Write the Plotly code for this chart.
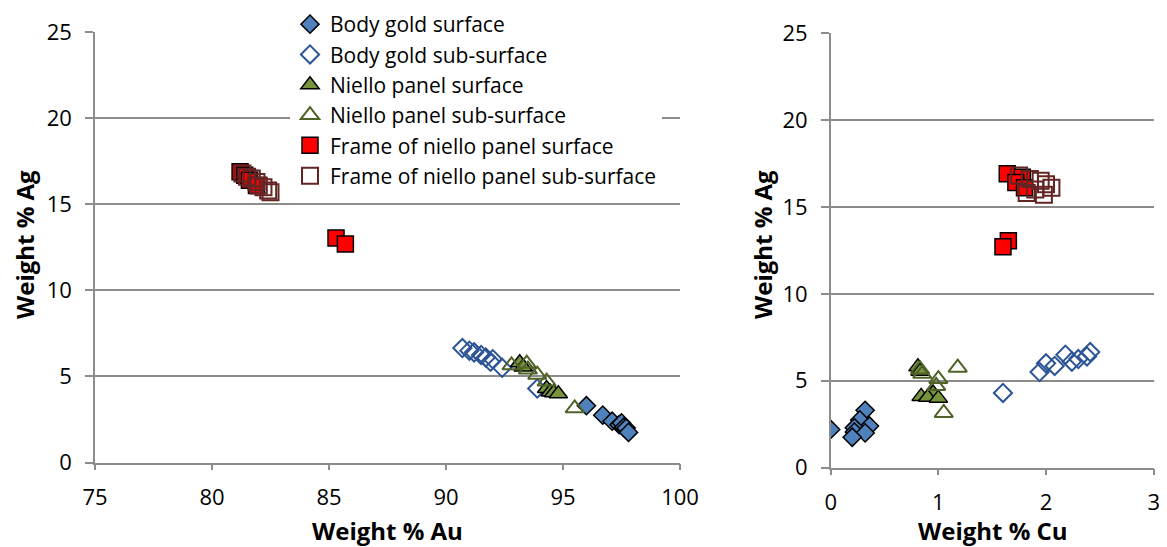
import plotly.graph_objects as go

# ---- data (Weight %) ----
body_surf_au = [96.0, 96.7, 97.1, 97.4, 97.5, 97.6, 97.7, 97.8]
body_surf_ag = [3.3, 2.75, 2.4, 2.2, 2.3, 2.05, 2.0, 1.75]
body_surf_cu = [0.32, 0.27, 0.36, 0.0, 0.22, 0.22, 0.32, 0.2]

body_sub_au = [90.7, 91.0, 91.2, 91.5, 91.7, 91.9, 92.0, 92.4, 93.9]
body_sub_ag = [6.65, 6.5, 6.4, 6.25, 6.1, 5.85, 6.0, 5.5, 4.3]
body_sub_cu = [2.41, 2.18, 2.38, 2.3, 2.24, 2.08, 2.0, 1.94, 1.6]

niello_surf_au = [93.15, 93.3, 94.3, 94.45, 94.6, 94.8]
niello_surf_ag = [5.8, 5.55, 4.3, 4.1, 4.05, 4.0]
niello_surf_cu = [0.81, 0.83, 0.95, 0.84, 0.9, 1.0]

niello_sub_au = [92.8, 93.45, 93.5, 93.9, 94.3, 95.5]
niello_sub_ag = [5.65, 5.75, 5.4, 5.1, 4.7, 3.15]
niello_sub_cu = [0.83, 1.18, 0.85, 1.0, 0.98, 1.05]

frame_surf_au = [81.2, 81.4, 81.6, 81.9, 85.3, 85.7]
frame_surf_ag = [16.9, 16.7, 16.4, 16.1, 13.05, 12.7]
frame_surf_cu = [1.64, 1.78, 1.72, 1.8, 1.65, 1.6]

frame_sub_au = [81.3, 81.5, 81.7, 81.9, 82.0, 82.2, 82.4, 82.5]
frame_sub_ag = [16.8, 16.6, 16.5, 16.3, 16.1, 16.0, 15.8, 15.7]
frame_sub_cu = [1.75, 1.85, 1.95, 2.0, 2.05, 1.9, 1.82, 1.98]

x_ticks_au = [75, 80, 85, 90, 95, 100]
x_ticks_cu = [0, 1, 2, 3]
y_ticks_ag = [0, 5, 10, 15, 20, 25]

series = [
    ("Body gold surface", body_surf_au, body_surf_cu, body_surf_ag,
     dict(symbol="diamond", size=14, color="#4F81BD", line=dict(color="#000000", width=1.5))),
    ("Body gold sub-surface", body_sub_au, body_sub_cu, body_sub_ag,
     dict(symbol="diamond-open", size=14, color="#2C5597", line=dict(color="#2C5597", width=2))),
    ("Niello panel surface", niello_surf_au, niello_surf_cu, niello_surf_ag,
     dict(symbol="triangle-up", size=16, color="#77933C", line=dict(color="#000000", width=1.5))),
    ("Niello panel sub-surface", niello_sub_au, niello_sub_cu, niello_sub_ag,
     dict(symbol="triangle-up-open", size=16, color="#4F6228", line=dict(color="#4F6228", width=2))),
    ("Frame of niello panel surface", frame_surf_au, frame_surf_cu, frame_surf_ag,
     dict(symbol="square", size=16, color="#FF0000", line=dict(color="#000000", width=1.5))),
    ("Frame of niello panel sub-surface", frame_sub_au, frame_sub_cu, frame_sub_ag,
     dict(symbol="square-open", size=16, color="#632523", line=dict(color="#632523", width=2))),
]

fig = go.Figure()
for name, au, cu, ag, mk in series:
    fig.add_trace(go.Scatter(x=au, y=ag, mode="markers", name=name, marker=mk,
                             xaxis="x", yaxis="y", showlegend=True))
for name, au, cu, ag, mk in series:
    fig.add_trace(go.Scatter(x=cu, y=ag, mode="markers", name=name, marker=mk,
                             xaxis="x2", yaxis="y2", showlegend=False))

# the page body has an 8px default margin; work in figure pixels = screen pixels - 8
OFF = 8
W, H = 1167 - OFF, 547 - OFF
FONT = "Open Sans"
grid = "#8C8C8C"


def px(v):
    return (v - OFF) / W


def py(v):
    return (H - (v - OFF)) / H


common_x = dict(showgrid=False, zeroline=False, showline=True, linecolor=grid, linewidth=1.5,
                ticks="outside", ticklen=6, tickcolor=grid, tickwidth=1.5, automargin=False,
                tickfont=dict(family=FONT, size=22, color="#000"), ticklabelstandoff=8)
common_y = dict(showgrid=True, gridcolor=grid, gridwidth=1.5, zeroline=False, showline=True,
                linecolor=grid, linewidth=1.5, ticks="outside", ticklen=8, tickcolor=grid,
                tickwidth=1.5, tickfont=dict(family=FONT, size=22, color="#000"), automargin=False,
                ticklabelstandoff=9, range=[0, 25], tickvals=y_ticks_ag)

title_font = dict(family=FONT, size=24, color="#000")

fig.update_layout(
    width=W, height=H,
    margin=dict(l=0, r=0, t=0, b=0, autoexpand=False),
    paper_bgcolor="white", plot_bgcolor="white",
    font=dict(family=FONT, color="#000"),
    xaxis=dict(common_x, domain=[px(95), px(680)], range=[75, 100], tickvals=x_ticks_au, anchor="y"),
    yaxis=dict(common_y, domain=[py(462.5), py(32.3)], anchor="x"),
    xaxis2=dict(common_x, domain=[px(830.7), px(1153.7)], range=[0, 3], tickvals=x_ticks_cu, anchor="y2"),
    yaxis2=dict(common_y, domain=[py(467.7), py(33)], anchor="x2"),
    legend=dict(x=px(290), y=1 + 4 / H, xanchor="left", yanchor="top",
                bgcolor="white", borderwidth=0,
                font=dict(family=FONT, size=21, color="#000"), tracegroupgap=0),
    annotations=[
        dict(text="<b>Weight % Au</b>", x=px(387), y=py(530), xref="paper", yref="paper",
             xanchor="center", yanchor="middle", showarrow=False, borderpad=0, font=title_font),
        dict(text="<b>Weight % Cu</b>", x=px(993), y=py(530), xref="paper", yref="paper",
             xanchor="center", yanchor="middle", showarrow=False, borderpad=0, font=title_font),
        dict(text="<b>Weight % Ag</b>", x=px(24), y=py(245), xref="paper", yref="paper",
             xanchor="center", yanchor="middle", showarrow=False, textangle=-90, borderpad=0,
             font=title_font),
        dict(text="<b>Weight % Ag</b>", x=px(762), y=py(245), xref="paper", yref="paper",
             xanchor="center", yanchor="middle", showarrow=False, textangle=-90, borderpad=0,
             font=title_font),
    ],
)

fig.write_html("out.html")
